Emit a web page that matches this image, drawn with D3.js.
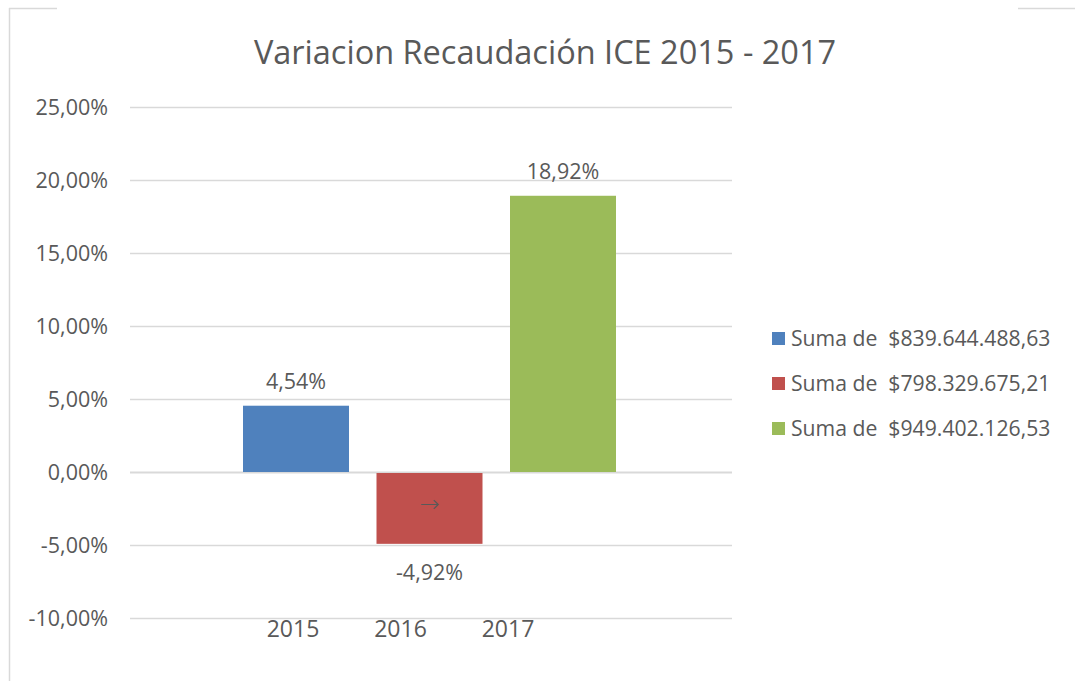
<!DOCTYPE html>
<html>
<head>
<meta charset="utf-8">
<script src="https://cdn.jsdelivr.net/npm/d3@7"></script>
<style>
body{margin:0;background:#fff;}
text{font-family:"Open Sans","Noto Sans",sans-serif;fill:#595959;white-space:pre;}
</style>
</head>
<body>
<svg width="1075" height="681"></svg>
<script>
var years = ["2015", "2016", "2017"];
var seriesNames = ["Suma de  $839.644.488,63", "Suma de  $798.329.675,21", "Suma de  $949.402.126,53"];
var variation = [4.54, -4.92, 18.92];
var yTicks = [-10, -5, 0, 5, 10, 15, 20, 25];
var colors = ["#4f81bd", "#c0504d", "#9bbb59"];

var svg = d3.select("svg");

// chart border (top partly hidden like the original)
svg.append("line").attr("x1", 9.5).attr("x2", 9.5).attr("y1", 8).attr("y2", 681).attr("stroke", "#d9d9d9").attr("stroke-width", 1.5);
svg.append("line").attr("x1", 9).attr("x2", 57).attr("y1", 8.5).attr("y2", 8.5).attr("stroke", "#d9d9d9").attr("stroke-width", 1.5);
svg.append("line").attr("x1", 1018).attr("x2", 1075).attr("y1", 8.5).attr("y2", 8.5).attr("stroke", "#d9d9d9").attr("stroke-width", 1.5);

svg.append("text")
  .attr("x", 545).attr("y", 64)
  .attr("text-anchor", "middle")
  .attr("font-size", "32.5px")
  .text("Variacion Recaudación ICE 2015 - 2017");

var y = d3.scaleLinear().domain([-10, 25]).range([618, 107]);
var x = d3.scaleBand().domain(seriesNames).range([243, 616]).paddingInner(0.206);
var xLabel = d3.scalePoint().domain(years).range([293, 508]);

// gridlines
svg.append("g").selectAll("line").data(yTicks).enter().append("line")
  .attr("x1", 130).attr("x2", 732)
  .attr("y1", function(d){ return y(d) + 0.5; })
  .attr("y2", function(d){ return y(d) + 0.5; })
  .attr("stroke", "#d9d9d9")
  .attr("stroke-width", function(d){ return d === 0 ? 2 : 1.3; });

svg.append("g").selectAll("text").data(yTicks).enter().append("text")
  .attr("x", 108)
  .attr("y", function(d){ return y(d) + 8; })
  .attr("text-anchor", "end")
  .attr("font-size", "21.5px")
  .text(function(d){ return d.toFixed(2).replace(".", ",") + "%"; });

// bars
var data = seriesNames.map(function(s, i){ return {name: s, value: variation[i], color: colors[i]}; });

svg.append("g").selectAll("rect").data(data).enter().append("rect")
  .attr("x", function(d){ return x(d.name); })
  .attr("width", x.bandwidth())
  .attr("y", function(d){ return d.value >= 0 ? y(d.value) : y(0) + 1; })
  .attr("height", function(d){ return Math.abs(y(d.value) - y(0)) - (d.value >= 0 ? 0 : 1); })
  .attr("fill", function(d){ return d.color; });

// data labels
svg.append("g").selectAll("text").data(data).enter().append("text")
  .attr("x", function(d){ return x(d.name) + x.bandwidth() / 2; })
  .attr("y", function(d){ return d.value >= 0 ? y(d.value) - 17 : y(d.value) + 36; })
  .attr("text-anchor", "middle")
  .attr("font-size", "21.5px")
  .text(function(d){ return d.value.toFixed(2).replace(".", ",") + "%"; });

// small arrow inside the red bar
svg.append("text")
  .attr("x", x(seriesNames[1]) + x.bandwidth() / 2)
  .attr("y", 512)
  .attr("text-anchor", "middle")
  .attr("font-size", "24px")
  .style("font-family", "DejaVu Sans")
  .style("font-weight", "200")
  .text("→");

// category labels
svg.append("g").selectAll("text").data(years).enter().append("text")
  .attr("x", function(d){ return xLabel(d); })
  .attr("y", 637)
  .attr("text-anchor", "middle")
  .attr("font-size", "23px")
  .text(function(d){ return d; });

// legend
var legend = svg.append("g").selectAll("g").data(data).enter().append("g")
  .attr("transform", function(d, i){ return "translate(772," + (338 + i * 45) + ")"; });
legend.append("rect").attr("x", 0).attr("y", -6).attr("width", 13).attr("height", 13)
  .attr("fill", function(d){ return d.color; });
legend.append("text").attr("x", 19).attr("y", 8).attr("font-size", "21.2px")
  .text(function(d){ return d.name; });
</script>
</body>
</html>
